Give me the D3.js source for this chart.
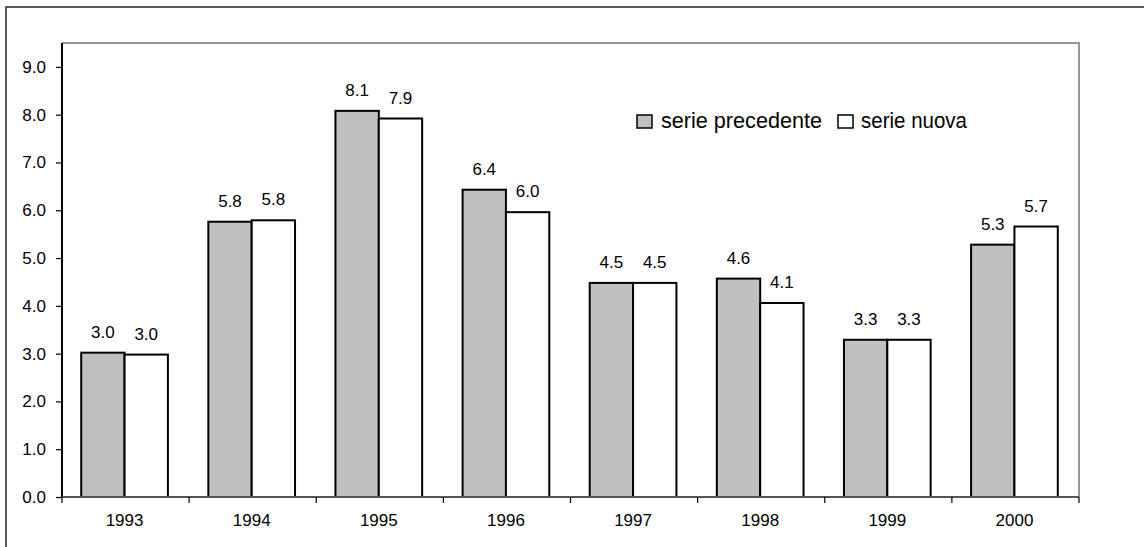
<!DOCTYPE html>
<html>
<head>
<meta charset="utf-8">
<script src="https://cdn.jsdelivr.net/npm/d3@7"></script>
<style>
  html, body { margin: 0; padding: 0; background: #fff; }
  svg { display: block; }
  text { font-family: "Liberation Sans", Arial, sans-serif; fill: #000; }
</style>
</head>
<body>
<svg id="chart" width="1144" height="547"></svg>
<script>
const years = ["1993", "1994", "1995", "1996", "1997", "1998", "1999", "2000"];
const seriesNames = ["serie precedente", "serie nuova"];
const seriePrecedente = [3.02, 5.76, 8.08, 6.43, 4.48, 4.57, 3.29, 5.28];
const serieNuova = [2.98, 5.79, 7.92, 5.96, 4.48, 4.06, 3.29, 5.66];
const yTicks = [0, 1, 2, 3, 4, 5, 6, 7, 8, 9];
const colors = ["#c0c0c0", "#ffffff"];

const svg = d3.select("#chart");
const W = 1144, H = 547;
const plot = { left: 62, right: 1079, top: 43, bottom: 497 };

// outer frame
svg.append("path")
  .attr("d", `M6,${H} L6,7 L${W},7`)
  .attr("fill", "none").attr("stroke", "#222").attr("stroke-width", 1.5);

const x0 = d3.scaleBand().domain(years).range([plot.left, plot.right]).padding(0);
const pairFrac = 0.682;
const x1 = d3.scaleBand().domain(seriesNames).range([0, x0.bandwidth() * pairFrac]).padding(0);
const y = d3.scaleLinear().domain([0, 9.5]).range([plot.bottom, plot.top]);

// plot border (top and right)
svg.append("path")
  .attr("d", `M${plot.left},${plot.top} L${plot.right},${plot.top} L${plot.right},${plot.bottom}`)
  .attr("fill", "none").attr("stroke", "#969696").attr("stroke-width", 2);

const data = years.map((yr, i) => ({ year: yr, values: [seriePrecedente[i], serieNuova[i]] }));

const groups = svg.append("g").selectAll("g").data(data).join("g")
  .attr("transform", d => `translate(${x0(d.year) + (x0.bandwidth() * (1 - pairFrac)) / 2 - 1},0)`);

groups.selectAll("rect").data(d => d.values.map((v, j) => ({ v, s: seriesNames[j], j })))
  .join("rect")
  .attr("x", d => x1(d.s))
  .attr("y", d => y(d.v))
  .attr("width", x1.bandwidth())
  .attr("height", d => y(0) - y(d.v))
  .attr("fill", d => colors[d.j])
  .attr("stroke", "#000").attr("stroke-width", 2);

groups.selectAll("text.lbl").data(d => d.values.map((v, j) => ({ v, s: seriesNames[j], j })))
  .join("text").attr("class", "lbl")
  .attr("x", d => x1(d.s) + x1.bandwidth() / 2)
  .attr("y", d => y(d.v) - 15)
  .attr("text-anchor", "middle")
  .style("font-size", "17px")
  .text(d => d.v.toFixed(1));

// y axis
const yAxis = d3.axisLeft(y).tickValues(yTicks).tickFormat(d3.format(".1f")).tickSize(6).tickPadding(10);
const gy = svg.append("g").attr("transform", `translate(${plot.left},0)`).call(yAxis);
gy.select(".domain").attr("stroke", "#000").attr("stroke-width", 2).attr("d", `M0,${plot.top}V${plot.bottom}`);
gy.selectAll(".tick line").attr("stroke", "#000").attr("stroke-width", 1.2);
gy.selectAll(".tick text").style("font-size", "17px").attr("font-family", null);

// x axis
const gx = svg.append("g").attr("transform", `translate(0,${plot.bottom})`);
gx.append("line").attr("x1", plot.left).attr("x2", plot.right).attr("y1", 0).attr("y2", 0)
  .attr("stroke", "#555").attr("stroke-width", 2);
const boundaries = years.map(yr => x0(yr)).concat([plot.right]);
gx.selectAll("line.tk").data(boundaries).join("line").attr("class", "tk")
  .attr("x1", d => d).attr("x2", d => d).attr("y1", 0).attr("y2", 6)
  .attr("stroke", "#000").attr("stroke-width", 1.2);
gx.selectAll("text").data(years).join("text")
  .attr("x", d => x0(d) + x0.bandwidth() / 2 - 1)
  .attr("y", 29)
  .attr("text-anchor", "middle")
  .style("font-size", "17px")
  .text(d => d);

// legend
const legend = svg.append("g");
const legItems = [
  { name: seriesNames[0], color: colors[0], bx: 637, tx: 661, tw: 161 },
  { name: seriesNames[1], color: colors[1], bx: 838, tx: 861, tw: 106 }
];
legItems.forEach(it => {
  legend.append("rect").attr("x", it.bx).attr("y", 115).attr("width", 15).attr("height", 13)
    .attr("fill", it.color).attr("stroke", "#000").attr("stroke-width", 1.5);
  legend.append("text").attr("x", it.tx).attr("y", 128)
    .style("font-family", "'Liberation Sans', Arial, sans-serif")
    .style("font-size", "22px")
    .attr("textLength", it.tw).attr("lengthAdjust", "spacingAndGlyphs")
    .text(it.name);
});
</script>
</body>
</html>
